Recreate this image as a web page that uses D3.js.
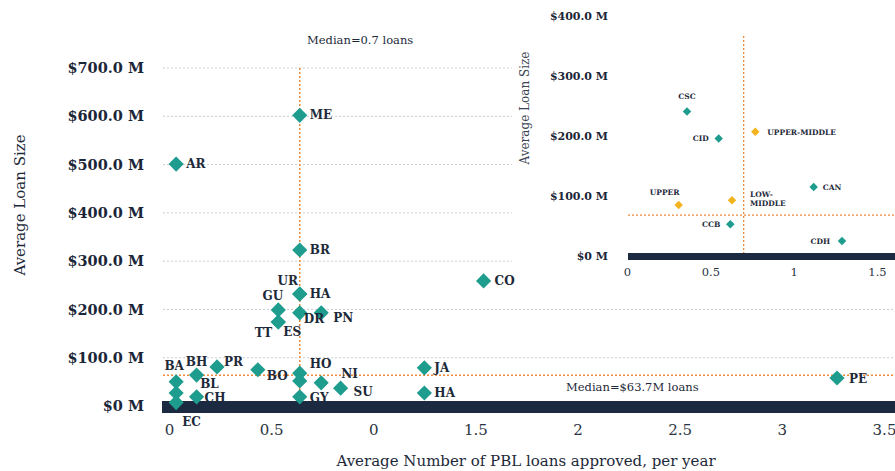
<!DOCTYPE html>
<html>
<head>
<meta charset="utf-8">
<script src="https://cdn.jsdelivr.net/npm/d3@7"></script>
<style>
  body { margin: 0; background: #fff; }
  svg text { font-family: "DejaVu Serif", serif; fill: #1d2939; }
</style>
</head>
<body>
<svg id="chart" width="895" height="471"></svg>
<script>
// ---- main chart data (countries) ----
var mainNames = ["ME","AR","BR","CO","HA","UR","GU","TT","ES","DR","PN",
                 "BA","BL","EC","BH","PR","CH","BO","HO","","GY","NI","SU","JA","HA","PE"];
var mainLoans = [0.64,0.035,0.64,1.54,0.64,0.64,0.535,0.535,0.535,0.64,0.745,
                 0.035,0.035,0.035,0.135,0.235,0.135,0.435,0.64,0.64,0.64,0.745,0.84,1.25,1.25,3.27];
var mainSize  = [602,501,323,259,232,232,199,174,174,193,193,
                 50,27,7,64,81,19,75,68,52,19,48,37,79,27,58];

var xTickValues = [0, 0.5, 1, 1.5, 2, 2.5, 3, 3.5];
var xTickLabels = ["0","0.5","0","1.5","2","2.5","3","3.5"];
var yTickValues = [0, 100, 200, 300, 400, 500, 600, 700];
var medianLoans = 0.64, medianSize = 63.7;

// ---- inset data (groups) ----
var insetNames = ["CSC","CID","UPPER-MIDDLE","CAN","UPPER","LOW-\nMIDDLE","CCB","CDH"];
var insetLoans = [0.36,0.55,0.77,1.12,0.31,0.63,0.62,1.29];
var insetSize  = [241,196,207,115,85,93,53,25];
var insetKind  = ["inst","inst","income","inst","income","income","inst","inst"];
var insetXTicks = [0, 0.5, 1, 1.5];
var insetYTicks = [0, 100, 200, 300, 400];
var insetMedianLoans = 0.70, insetMedianSize = 68;

// label placement [anchor, dx, dy]
var mainPlace = [["start",10,4],["start",10,4],["start",10,4],["start",11,4],["start",10,4],
  ["middle",-12,-9],["end",5,-10],["end",-6,15],["start",5,14],["start",4,10],["start",12,9],
  ["middle",-2,-12],["start",24,-5],["start",6,23],["middle",0,-9],["start",7,-1],["start",8,5],
  ["start",9,10],["start",10,-5],["start",0,0],["start",10,5],["start",20,-5],["start",13,8],
  ["start",10,4],["start",10,4],["start",12,5]];
var insetPlace = [["middle",0,-12],["end",-10,3],["start",12,3],["start",9,3],
  ["middle",-14,-10],["start",18,-3],["end",-10,3],["end",-12,3]];

var teal = "#1e9c8e", gold = "#f2b41e", orange = "#ee8a3a", navy = "#1b2a40";

var svg = d3.select("#chart");

var x = d3.scaleLinear().domain([0, 3.5]).range([169, 884]);
var y = d3.scaleLinear().domain([0, 700]).range([406, 68]);

// grid lines
svg.append("g").selectAll("line")
  .data(yTickValues.filter(function(d){ return d > 0; })).enter()
  .append("line")
    .attr("x1", 163).attr("x2", 895)
    .attr("y1", function(d){ return y(d); })
    .attr("y2", function(d){ return y(d); })
    .attr("stroke", "#c9cdd2")
    .attr("stroke-width", 1)
    .attr("stroke-dasharray", "2,2");

// y axis
var yAxis = svg.append("g")
  .attr("transform", "translate(144,0)")
  .call(d3.axisLeft(y).tickValues(yTickValues).tickSize(0).tickPadding(0)
    .tickFormat(function(d){ return d === 0 ? "$0 M" : "$" + d.toFixed(1) + " M"; }));
yAxis.select(".domain").remove();
yAxis.selectAll("text")
  .style("font-family", "DejaVu Serif, serif")
  .style("font-size", "14.5px").style("font-weight", "bold").style("fill", "#1b2638");

// x axis
var xAxis = svg.append("g")
  .attr("transform", "translate(0,424)")
  .call(d3.axisBottom(x).tickValues(xTickValues).tickSize(0).tickPadding(0)
    .tickFormat(function(d, i){ return xTickLabels[i]; }));
xAxis.select(".domain").remove();
xAxis.selectAll("text")
  .style("font-family", "DejaVu Serif, serif")
  .style("font-size", "15px").style("fill", "#2a3442");

// axis titles
svg.append("text")
  .attr("x", 526).attr("y", 466)
  .attr("text-anchor", "middle")
  .style("font-size", "15px")
  .text("Average Number of PBL loans approved, per year");

svg.append("text")
  .attr("transform", "translate(25,205) rotate(-90)")
  .attr("text-anchor", "middle")
  .style("font-size", "15px")
  .text("Average Loan Size");

// medians
svg.append("line")
  .attr("x1", x(medianLoans)).attr("x2", x(medianLoans))
  .attr("y1", y(700)).attr("y2", y(0))
  .attr("stroke", orange).attr("stroke-width", 1.5).attr("stroke-dasharray", "2,2");
svg.append("line")
  .attr("x1", 163).attr("x2", 895)
  .attr("y1", y(medianSize)).attr("y2", y(medianSize))
  .attr("stroke", orange).attr("stroke-width", 1.5).attr("stroke-dasharray", "2,2");

svg.append("text")
  .attr("x", 307).attr("y", 44)
  .style("font-size", "11.5px")
  .text("Median=0.7 loans");
svg.append("text")
  .attr("x", 566).attr("y", 391)
  .style("font-size", "11.5px")
  .text("Median=$63.7M loans");

// base bar
svg.append("rect")
  .attr("x", 162).attr("y", 401)
  .attr("width", 895 - 162).attr("height", 12)
  .attr("fill", navy);

// points
var diamond = d3.symbol().type(d3.symbolSquare).size(115);
var idx = d3.range(mainNames.length);

svg.append("g").selectAll("path")
  .data(idx).enter()
  .append("path")
    .attr("d", diamond)
    .attr("transform", function(i){ return "translate(" + x(mainLoans[i]) + "," + y(mainSize[i]) + ") rotate(45)"; })
    .attr("fill", teal);

svg.append("g").selectAll("text")
  .data(idx).enter()
  .append("text")
    .attr("x", function(i){ return x(mainLoans[i]) + mainPlace[i][1]; })
    .attr("y", function(i){ return y(mainSize[i]) + mainPlace[i][2]; })
    .attr("text-anchor", function(i){ return mainPlace[i][0]; })
    .style("font-size", "12px").style("font-weight", "bold")
    .text(function(i){ return mainNames[i]; });

// ---- inset ----
var inset = svg.append("g").attr("class", "inset");
inset.append("rect")
  .attr("x", 512).attr("y", 0)
  .attr("width", 383).attr("height", 268)
  .attr("fill", "#fff");

var ix = d3.scaleLinear().domain([0, 1.5]).range([627, 877]);
var iy = d3.scaleLinear().domain([0, 400]).range([256, 16]);

var iyAxis = inset.append("g")
  .attr("transform", "translate(608,0)")
  .call(d3.axisLeft(iy).tickValues(insetYTicks).tickSize(0).tickPadding(0)
    .tickFormat(function(d){ return d === 0 ? "$0 M" : "$" + d.toFixed(1) + " M"; }));
iyAxis.select(".domain").remove();
iyAxis.selectAll("text")
  .style("font-family", "DejaVu Serif, serif")
  .style("font-size", "11px").style("font-weight", "bold").style("fill", "#1b2638");

var ixAxis = inset.append("g")
  .attr("transform", "translate(0,268)")
  .call(d3.axisBottom(ix).tickValues(insetXTicks).tickSize(0).tickPadding(0)
    .tickFormat(function(d){ return String(d); }));
ixAxis.select(".domain").remove();
ixAxis.selectAll("text")
  .style("font-family", "DejaVu Serif, serif")
  .style("font-size", "11.5px").style("fill", "#2a3442");

inset.append("text")
  .attr("transform", "translate(529,108) rotate(-90)")
  .attr("text-anchor", "middle")
  .style("font-size", "12px")
  .style("fill", "#3a4452")
  .text("Average Loan Size");

inset.append("line")
  .attr("x1", ix(insetMedianLoans)).attr("x2", ix(insetMedianLoans))
  .attr("y1", 36).attr("y2", 253)
  .attr("stroke", orange).attr("stroke-width", 1.3).attr("stroke-dasharray", "2,2");
inset.append("line")
  .attr("x1", 628).attr("x2", 895)
  .attr("y1", iy(insetMedianSize)).attr("y2", iy(insetMedianSize))
  .attr("stroke", orange).attr("stroke-width", 1.3).attr("stroke-dasharray", "2,2");

inset.append("rect")
  .attr("x", 628).attr("y", 253)
  .attr("width", 895 - 628).attr("height", 7)
  .attr("fill", navy);

var smallDiamond = d3.symbol().type(d3.symbolSquare).size(36);
var iidx = d3.range(insetNames.length);

inset.append("g").selectAll("path")
  .data(iidx).enter()
  .append("path")
    .attr("d", smallDiamond)
    .attr("transform", function(i){ return "translate(" + ix(insetLoans[i]) + "," + iy(insetSize[i]) + ") rotate(45)"; })
    .attr("fill", function(i){ return insetKind[i] === "income" ? gold : teal; });

var ilabels = inset.append("g").selectAll("text")
  .data(iidx).enter()
  .append("text")
    .attr("x", function(i){ return ix(insetLoans[i]) + insetPlace[i][1]; })
    .attr("y", function(i){ return iy(insetSize[i]) + insetPlace[i][2]; })
    .attr("text-anchor", function(i){ return insetPlace[i][0]; })
    .style("font-size", "7.5px").style("font-weight", "bold");

ilabels.each(function(i){
  var lines = insetNames[i].split("\n");
  var t = d3.select(this);
  lines.forEach(function(l, k){
    t.append("tspan")
      .attr("x", ix(insetLoans[i]) + insetPlace[i][1])
      .attr("dy", k === 0 ? 0 : 9)
      .text(l);
  });
});
</script>
</body>
</html>
